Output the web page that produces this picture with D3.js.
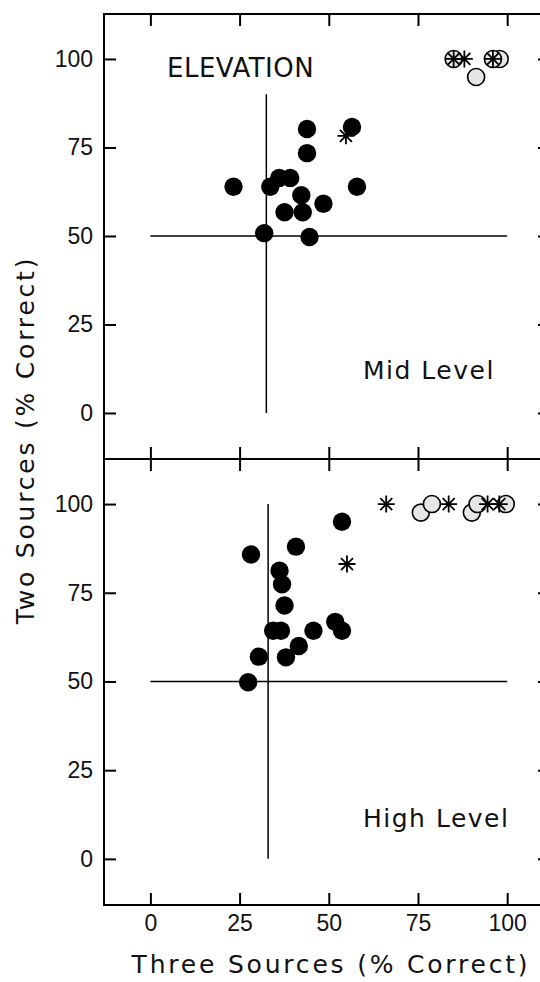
<!DOCTYPE html>
<html>
<head>
<meta charset="utf-8">
<script src="https://cdn.jsdelivr.net/npm/d3@7"></script>
<style>
  body { margin: 0; background: #fff; }
  svg { display: block; }
</style>
</head>
<body>
<div id="chart"></div>
<script>
const xTicks = [0, 25, 50, 75, 100];
const yTicks = [0, 25, 50, 75, 100];

// Mid Level panel
const midFilledX = [43.9, 56.5, 43.9, 23.3, 33.6, 36.1, 39.2, 57.9, 42.3, 48.5, 37.6, 42.7, 31.9, 44.6];
const midFilledY = [80.2, 80.8, 73.4, 63.9, 63.9, 66.4, 66.4, 63.9, 61.5, 59.1, 56.7, 56.7, 50.8, 49.7];
const midOpenX = [91.3, 97.9, 96, 85];
const midOpenY = [94.9, 100, 100, 100];
const midStarX = [54.8, 85, 88, 96];
const midStarY = [78.3, 100, 100, 100];

// High Level panel
const highFilledX = [53.7, 40.8, 28.2, 36.2, 36.9, 37.6, 34.4, 36.6, 45.7, 51.8, 53.7, 41.6, 30.4, 38.0, 27.4];
const highFilledY = [95.0, 88.0, 85.8, 81.2, 77.4, 71.4, 64.3, 64.3, 64.3, 66.8, 64.3, 60.0, 57.0, 56.8, 49.8];
const highOpenX = [75.8, 90.1, 78.9, 91.7, 99.6];
const highOpenY = [97.6, 97.6, 100, 100, 100];
const highStarX = [66.1, 83.6, 94.5, 97.8, 55.1];
const highStarY = [100, 100, 100, 100, 83.1];

const W = 540, H = 982;
const frameL = 104, frameR = 550, frameT = 14, frameM = 459, frameB = 905;

const svg = d3.select('#chart').append('svg')
  .attr('width', W)
  .attr('height', H);

const x = d3.scaleLinear().domain([-13, 112]).range([frameL, frameR]);

const panels = [
  { name: 'Mid Level', y0: frameM, y1: frameT, chanceX: 32.5, vTop: 90,
    filled: { xs: midFilledX, ys: midFilledY },
    open: { xs: midOpenX, ys: midOpenY },
    stars: { xs: midStarX, ys: midStarY } },
  { name: 'High Level', y0: frameB, y1: frameM, chanceX: 33, vTop: 100,
    filled: { xs: highFilledX, ys: highFilledY },
    open: { xs: highOpenX, ys: highOpenY },
    stars: { xs: highStarX, ys: highStarY } }
];

const tickFont = '"Liberation Sans", Arial, sans-serif';
const labelFont = '"DejaVu Sans", sans-serif';

function zip(xs, ys) { return xs.map((v, i) => [v, ys[i]]); }

panels.forEach((p, pi) => {
  const y = d3.scaleLinear().domain([-13, 112.7]).range([p.y0, p.y1]);
  const g = svg.append('g');

  // left axis — inward ticks, labels outside
  const ay = g.append('g')
    .attr('transform', `translate(${frameL},0)`)
    .call(d3.axisLeft(y).tickValues(yTicks).tickSizeInner(-12).tickSizeOuter(0).tickPadding(11));
  ay.select('.domain').remove();
  ay.selectAll('line').attr('stroke', '#000').attr('stroke-width', 2);
  ay.selectAll('text')
    .attr('font-family', tickFont)
    .attr('font-size', 23)
    .attr('fill', '#111');

  // right axis ticks
  const ar = g.append('g')
    .attr('transform', `translate(${frameR},0)`)
    .call(d3.axisRight(y).tickValues(yTicks).tickSizeInner(-12).tickSizeOuter(0).tickFormat(''));
  ar.select('.domain').remove();
  ar.selectAll('line').attr('stroke', '#000').attr('stroke-width', 2);

  // top and bottom ticks (inward)
  const at = g.append('g')
    .attr('transform', `translate(0,${p.y1})`)
    .call(d3.axisTop(x).tickValues(xTicks).tickSizeInner(-12).tickSizeOuter(0).tickFormat(''));
  at.select('.domain').remove();
  at.selectAll('line').attr('stroke', '#000').attr('stroke-width', 2);

  const ab = g.append('g')
    .attr('transform', `translate(0,${p.y0})`)
    .call(d3.axisBottom(x).tickValues(xTicks).tickSizeInner(-12).tickSizeOuter(0).tickPadding(10));
  ab.select('.domain').remove();
  ab.selectAll('line').attr('stroke', '#000').attr('stroke-width', 2);
  ab.selectAll('text')
    .attr('font-family', tickFont)
    .attr('font-size', 23)
    .attr('fill', '#111')
    .style('display', pi === 1 ? null : 'none');

  // chance reference lines
  g.append('line')
    .attr('x1', x(p.chanceX)).attr('x2', x(p.chanceX))
    .attr('y1', y(p.vTop)).attr('y2', y(0))
    .attr('stroke', '#000').attr('stroke-width', 1.5);
  g.append('line')
    .attr('x1', x(0)).attr('x2', x(100))
    .attr('y1', y(50)).attr('y2', y(50))
    .attr('stroke', '#000').attr('stroke-width', 1.5);

  // open circles first so the asterisks sit on top
  g.selectAll('circle.open')
    .data(zip(p.open.xs, p.open.ys))
    .join('circle')
    .attr('class', 'open')
    .attr('cx', d => x(d[0]))
    .attr('cy', d => y(d[1]))
    .attr('r', 8.5)
    .attr('fill', '#e6e6e6')
    .attr('stroke', '#000')
    .attr('stroke-width', 1.6);

  const star = d3.symbol().type({
    draw(ctx, size) {
      const r = Math.sqrt(size);
      for (let k = 0; k < 4; k++) {
        const a = k * Math.PI / 4;
        ctx.moveTo(-r * Math.cos(a), -r * Math.sin(a));
        ctx.lineTo(r * Math.cos(a), r * Math.sin(a));
      }
    }
  }).size(72);

  g.selectAll('path.star')
    .data(zip(p.stars.xs, p.stars.ys))
    .join('path')
    .attr('class', 'star')
    .attr('transform', d => `translate(${x(d[0])},${y(d[1])})`)
    .attr('d', star)
    .attr('fill', 'none')
    .attr('stroke', '#000')
    .attr('stroke-width', 1.8);

  g.selectAll('circle.filled')
    .data(zip(p.filled.xs, p.filled.ys))
    .join('circle')
    .attr('class', 'filled')
    .attr('cx', d => x(d[0]))
    .attr('cy', d => y(d[1]))
    .attr('r', 9.2)
    .attr('fill', '#000');

  // panel label
  g.append('text')
    .attr('x', 363)
    .attr('y', pi === 0 ? 379 : 827)
    .attr('font-family', labelFont)
    .attr('font-size', 25)
    .attr('letter-spacing', 1.5)
    .attr('fill', '#111')
    .text(p.name);
});

// frame
svg.append('path')
  .attr('d', `M${frameR},${frameT}H${frameL}V${frameB}H${frameR}M${frameL},${frameM}H${frameR}`)
  .attr('fill', 'none')
  .attr('stroke', '#000')
  .attr('stroke-width', 2);

svg.append('text')
  .attr('x', 167)
  .attr('y', 77)
  .attr('font-family', labelFont)
  .attr('font-size', 26)
  .attr('letter-spacing', 0.5)
  .attr('fill', '#111')
  .text('ELEVATION');

// axis titles
svg.append('text')
  .attr('x', 331)
  .attr('y', 973)
  .attr('text-anchor', 'middle')
  .attr('font-family', labelFont)
  .attr('font-size', 25)
  .attr('letter-spacing', 2.8)
  .attr('fill', '#111')
  .text('Three Sources (% Correct)');

svg.append('text')
  .attr('transform', 'translate(34,440) rotate(-90)')
  .attr('text-anchor', 'middle')
  .attr('font-family', labelFont)
  .attr('font-size', 25)
  .attr('letter-spacing', 2.8)
  .attr('fill', '#111')
  .text('Two Sources (% Correct)');
</script>
</body>
</html>
